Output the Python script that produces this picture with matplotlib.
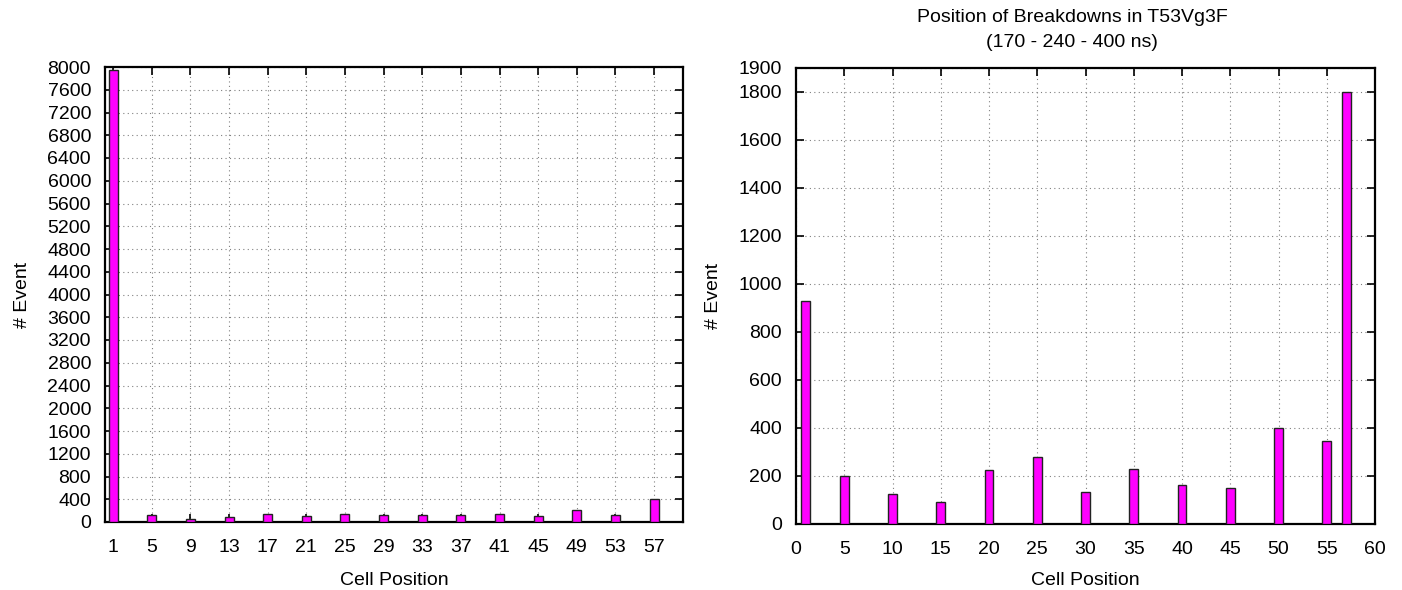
import matplotlib
matplotlib.use("Agg")
import matplotlib.pyplot as plt
import numpy as np

plt.rcParams["font.family"] = ["Liberation Sans", "DejaVu Sans"]
plt.rcParams["font.size"] = 14

# left panel: all breakdowns
left_cells = [1, 5, 9, 13, 17, 21, 25, 29, 33, 37, 41, 45, 49, 53, 57]
left_events = [7945, 118, 59, 82, 141, 112, 147, 118, 129, 124, 141, 100, 212, 118, 412]

# right panel: 170 - 240 - 400 ns
right_cells = [1, 5, 10, 15, 20, 25, 30, 35, 40, 45, 50, 55, 57]
right_events = [930, 202, 125, 91, 226, 280, 134, 228, 163, 150, 400, 346, 1800]

title_right = "Position of Breakdowns in T53Vg3F\n(170 - 240 - 400 ns)"


def style_axes(ax, xlab_y, ylab_x):
    for s in ax.spines.values():
        s.set_linewidth(1.6)
        s.set_color("black")
    ax.tick_params(direction="in", length=6, width=1.2, top=True, right=True,
                   labelsize=14)
    ax.tick_params(axis="x", pad=12)
    ax.tick_params(axis="y", pad=10)
    ax.grid(True, linestyle=(0, (1, 3)), color="gray", linewidth=0.8)
    ax.set_axisbelow(True)
    ax.set_xlabel("Cell Position", fontsize=14)
    ax.set_ylabel("# Event", fontsize=14)
    ax.xaxis.set_label_coords(0.5, xlab_y)
    ax.xaxis.label.set_va("center")
    ax.yaxis.set_label_coords(ylab_x, 0.5)
    ax.yaxis.label.set_va("center")


fig = plt.figure(figsize=(14.02, 5.9), dpi=100)

ax1 = fig.add_axes([105 / 1402, 68 / 590, 578 / 1402, 455 / 590])
ax1.bar(left_cells, left_events, width=0.93, color="#ff00ff",
        edgecolor="#222222", linewidth=1.0, zorder=3)
ax1.set_xlim(0.15, 60)
ax1.set_ylim(0, 8000)
ax1.set_xticks(left_cells)
ax1.set_yticks(np.arange(0, 8001, 400))
style_axes(ax1, -0.1275, -0.143)

ax2 = fig.add_axes([796 / 1402, 66 / 590, 579 / 1402, 456 / 590])
ax2.bar(right_cells, right_events, width=0.93, color="#ff00ff",
        edgecolor="#222222", linewidth=1.0, zorder=3)
ax2.set_xlim(0, 60)
ax2.set_ylim(0, 1900)
ax2.set_xticks(np.arange(0, 61, 5))
ax2.set_yticks(list(range(0, 1801, 200)) + [1900])
style_axes(ax2, -0.123, -0.143)

fig.text(1072 / 1402, 1 - 30 / 590, title_right, ha="center", va="center",
         fontsize=14, linespacing=1.55)

fig.savefig("out.png", dpi=100)
